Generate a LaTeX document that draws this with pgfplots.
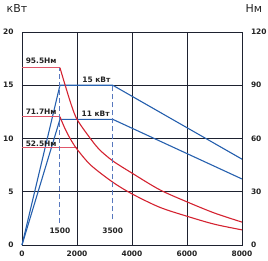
\documentclass[border=0pt]{standalone}
\usepackage{fontspec}
\setmainfont{DejaVu Sans}
\usepackage{pgfplots}
\pgfplotsset{compat=1.18}
\definecolor{gridc}{HTML}{1E2230}
\definecolor{bl}{HTML}{2660AE}
\definecolor{rd}{HTML}{D42230}
\definecolor{rdl}{HTML}{E0566A}
\definecolor{dsh}{HTML}{5878BE}
\definecolor{txt}{HTML}{222222}
\begin{document}
\begin{tikzpicture}
\useasboundingbox (-22bp,-16bp) rectangle (246bp,245bp);
\begin{axis}[
 width=220bp, height=213bp, scale only axis,
 xmin=0,xmax=8000,ymin=0,ymax=20,
 xtick={0,2000,4000,6000,8000}, ytick={0,5,10,15,20},
 grid=major, major grid style={gridc,line width=0.9pt},
 axis line style={gridc,line width=0.9pt},
 major tick length=0pt,
 tick label style={font=\bfseries\fontsize{7.5}{8}\selectfont, text=txt},
 /pgf/number format/assume math mode=true,
 /pgf/number format/1000 sep={},
 scaled x ticks=false,
 yticklabel style={anchor=east, xshift=-5bp},
 xticklabel style={anchor=north, yshift=-2.5bp},
 clip=false,
]
\addplot[bl, line width=1.1pt] coordinates {(0,0) (1380,15) (3300,15) (8000,8.06)};
\addplot[bl, line width=1.1pt] coordinates {(0,0) (1380,11.8) (3300,11.8) (8000,6.2)};
\addplot[rdl, line width=1.5pt] coordinates {(0,16.65) (1380,16.65)};
\addplot[rdl, line width=1.5pt] coordinates {(0,12.05) (1380,12.05)};
\addplot[rdl, line width=1.5pt] coordinates {(0,9.15) (2000,9.15)};
\addplot[rd, line width=1.1pt, smooth] coordinates {(1380,16.65) (1570,15.0) (1800,13.1) (2000,11.8) (2400,10.3) (2800,9.0) (3300,7.9) (4000,6.75) (5000,5.2) (6000,4.05) (7000,3.0) (8000,2.15)};
\addplot[rd, line width=1.1pt, smooth] coordinates {(1380,12.05) (1550,11.0) (1750,10.0) (2000,9.0) (2500,7.5) (3300,5.9) (4000,4.8) (5000,3.55) (6000,2.7) (7000,1.95) (8000,1.42)};
\addplot[dsh, line width=1pt, dash pattern=on 5bp off 3bp] coordinates {(1380,2.1) (1380,16.6)};
\addplot[dsh, line width=1pt, dash pattern=on 5bp off 3bp] coordinates {(3300,2.4) (3300,15)};
\node[font=\bfseries\fontsize{7.5}{8}\selectfont, text=txt, anchor=west, inner sep=0pt] at (axis cs:130,17.3) {95.5Нм};
\node[font=\bfseries\fontsize{7.5}{8}\selectfont, text=txt, anchor=west, inner sep=0pt] at (axis cs:130,12.5) {71.7Нм};
\node[font=\bfseries\fontsize{7.5}{8}\selectfont, text=txt, anchor=west, inner sep=0pt] at (axis cs:130,9.5) {52.5Нм};
\node[font=\bfseries\fontsize{7.5}{8}\selectfont, text=txt, inner sep=0pt] at (axis cs:2705,15.5) {15 кВт};
\node[font=\bfseries\fontsize{7.5}{8}\selectfont, text=txt, inner sep=0pt] at (axis cs:2680,12.35) {11 кВт};
\node[font=\bfseries\fontsize{7.5}{8}\selectfont, text=txt, inner sep=0pt] at (axis cs:1380,1.35) {1500};
\node[font=\bfseries\fontsize{7.5}{8}\selectfont, text=txt, inner sep=0pt] at (axis cs:3300,1.35) {3500};
\end{axis}
\begin{axis}[
 width=220bp, height=213bp, scale only axis,
 xmin=0,xmax=8000,ymin=0,ymax=120,
 axis y line*=right, axis x line=none,
 ytick={0,30,60,90,120},
 major tick length=0pt,
 axis line style={gridc,line width=0.9pt},
 tick label style={font=\bfseries\fontsize{7.5}{8}\selectfont, text=txt},
 /pgf/number format/assume math mode=true,
 yticklabel style={anchor=west, xshift=5.5bp},
]
\addplot[draw=none] coordinates {(0,0) (8000,120)};
\end{axis}
\node[font=\fontsize{11}{12}\selectfont, text=txt] at (-5bp,236bp) {кВт};
\node[font=\fontsize{11}{12}\selectfont, text=txt] at (232bp,236bp) {Нм};
\end{tikzpicture}
\end{document}
